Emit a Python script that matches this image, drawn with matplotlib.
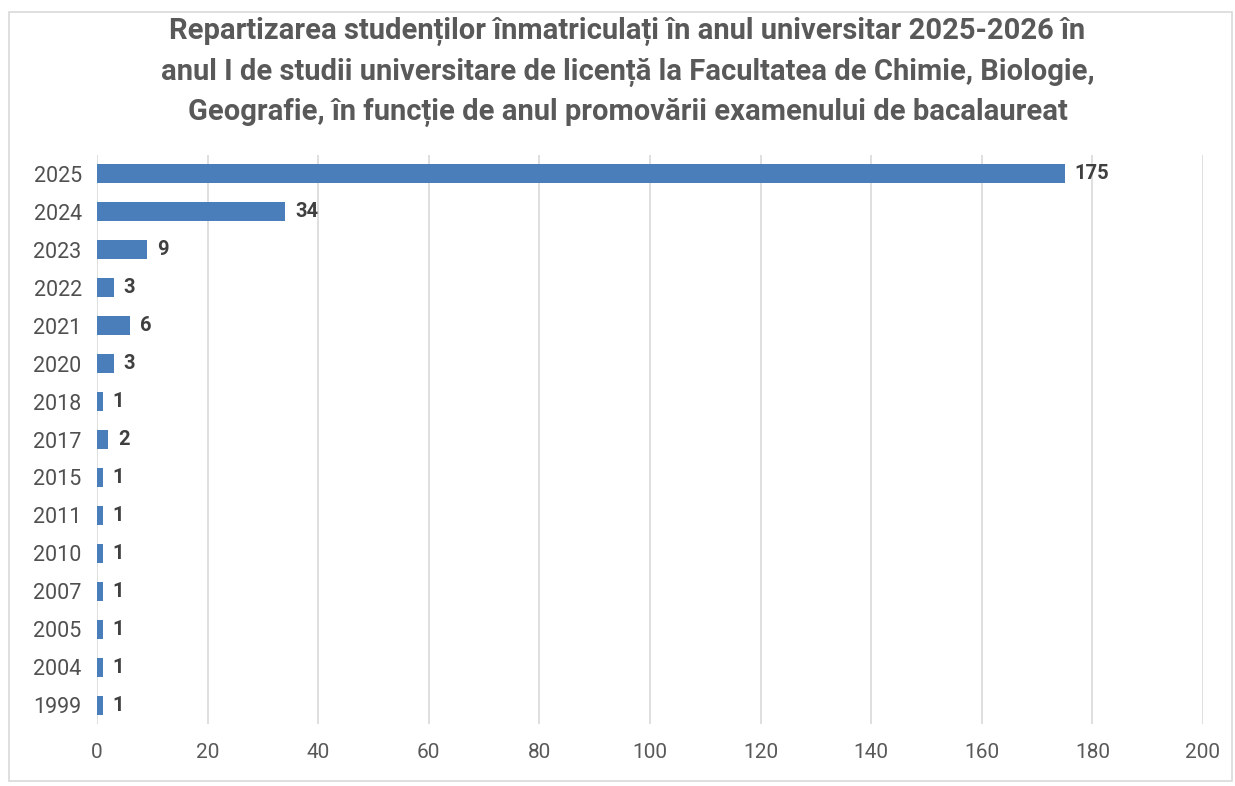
import matplotlib
matplotlib.use("Agg")
import matplotlib.pyplot as plt
from matplotlib.patches import Rectangle

years = ["2025", "2024", "2023", "2022", "2021", "2020", "2018", "2017",
         "2015", "2011", "2010", "2007", "2005", "2004", "1999"]
counts = [175, 34, 9, 3, 6, 3, 1, 2, 1, 1, 1, 1, 1, 1, 1]
xticks = [0, 20, 40, 60, 80, 100, 120, 140, 160, 180, 200]
title = ("Repartizarea studenților înmatriculați în anul universitar 2025-2026 în\n"
         "anul I de studii universitare de licență la Facultatea de Chimie, Biologie,\n"
         "Geografie, în funcție de anul promovării examenului de bacalaureat")

plt.rcParams['font.family'] = ['Roboto', 'DejaVu Sans']

fig = plt.figure(figsize=(12.35, 7.86), dpi=100)
fig.patches.append(Rectangle((9/1235, 1-781/786), 1223/1235, 769/786,
                             transform=fig.transFigure, fill=False,
                             edgecolor="#d9d9d9", linewidth=1.2))
ax = fig.add_axes([97/1235, 1-724/786, 1106/1235, 569/786])

ypos = list(range(len(years)))
ax.barh(ypos, counts, height=0.5, color="#4a7ebb", zorder=3)
for y, v in zip(ypos, counts):
    ax.text(v + 1.8, y, str(v), va="center", ha="left", fontsize=14.5,
            fontweight="bold", color="#404040")

ax.set_ylim(len(years) - 0.5, -0.5)
ax.set_yticks(ypos)
ax.set_yticklabels(years, fontsize=15.5, color="#505050")
ax.set_xlim(0, 200)
ax.set_xticks(xticks)
ax.set_xticklabels([str(t) for t in xticks], fontsize=15, color="#595959")
ax.tick_params(axis="both", length=0)
ax.tick_params(axis="y", pad=11)
ax.tick_params(axis="x", pad=14)
ax.grid(axis="x", color="#d9d9d9", linewidth=1.2, zorder=0)
for s in ax.spines.values():
    s.set_visible(False)

fig.text(0.508, 1-72/786, title, ha="center", va="center", fontsize=21,
         fontweight="bold", color="#595959", linespacing=1.5)

fig.savefig("out.png", dpi=100)
